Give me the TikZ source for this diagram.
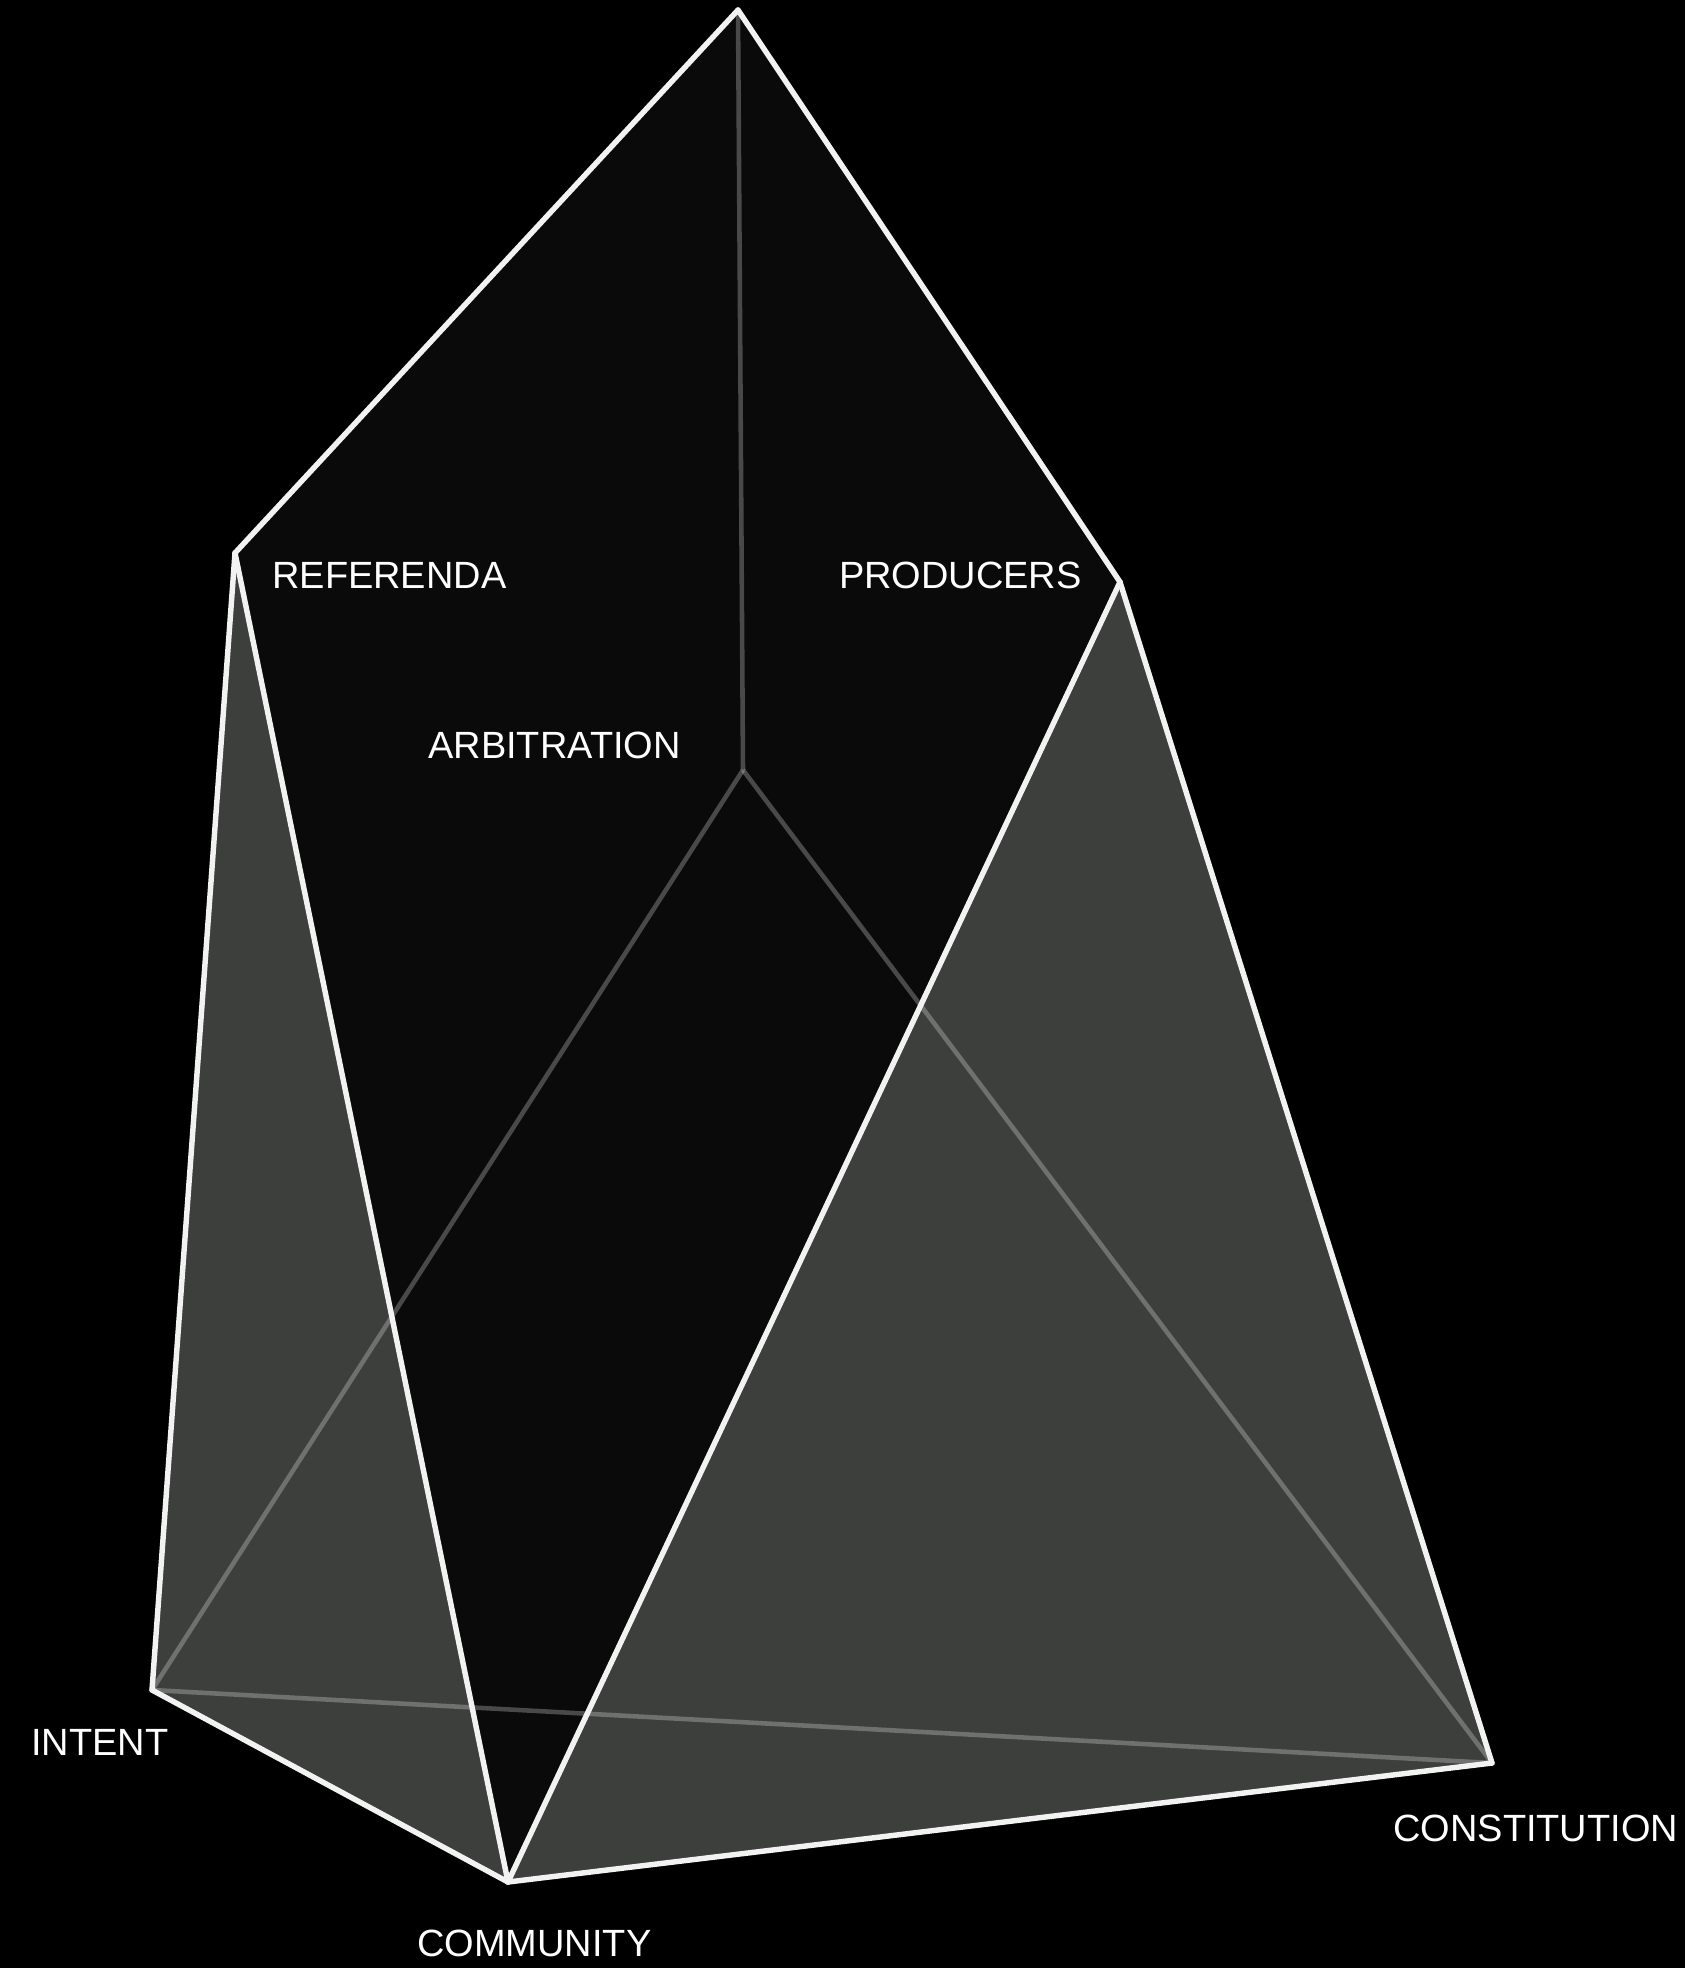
\documentclass[tikz,border=0pt]{standalone}
\usepackage{fontspec}
\setmainfont{Liberation Sans}
\usetikzlibrary{positioning}

\definecolor{facedark}{HTML}{0A0A0A}
\definecolor{facegray}{HTML}{3D3F3D}
\definecolor{edgewhite}{HTML}{F2F2F2}

\begin{document}
\begin{tikzpicture}[x=0.02cm,y=-0.02cm]
\tikzset{
  frontedge/.style={draw=edgewhite,line width=3.1pt,line cap=round,line join=round},
  backedge/.style={draw=white,draw opacity=0.26,line width=2.6pt,line cap=butt},
  darkface/.style={fill=facedark},
  grayface/.style={fill=facegray},
  vertexlabel/.style={text=white,inner sep=0pt,font=\fontsize{21.6}{26}\selectfont}
}
\fill[black] (0,0) rectangle (1685,1968);
\useasboundingbox (0,0) rectangle (1685,1968);
\coordinate (v_top) at (738,10);
\coordinate (v_ref) at (235,553);
\coordinate (v_prod) at (1120,582);
\coordinate (v_arb) at (743,770);
\coordinate (v_int) at (152,1690);
\coordinate (v_com) at (508,1882);
\coordinate (v_con) at (1492,1763);
% faces
\fill[darkface] (v_top) -- (v_ref) -- (v_com) -- (v_prod) -- cycle;
\fill[grayface] (v_ref) -- (v_int) -- (v_com) -- cycle;
\fill[grayface] (v_prod) -- (v_com) -- (v_con) -- cycle;
% hidden edges
\draw[backedge] (v_top) -- (v_arb);
\draw[backedge] (v_arb) -- (v_int);
\draw[backedge] (v_arb) -- (v_con);
\draw[backedge] (v_int) -- (v_con);
% visible edges
\draw[frontedge] (v_top) -- (v_ref);
\draw[frontedge] (v_top) -- (v_prod);
\draw[frontedge] (v_ref) -- (v_int);
\draw[frontedge] (v_ref) -- (v_com);
\draw[frontedge] (v_int) -- (v_com);
\draw[frontedge] (v_com) -- (v_con);
\draw[frontedge] (v_com) -- (v_prod);
\draw[frontedge] (v_prod) -- (v_con);
% labels
\node[vertexlabel,anchor=west] (l_ref) at (272,575) {REFERENDA};
\node[vertexlabel,anchor=east] (l_prod) at (1082,575) {PRODUCERS};
\node[vertexlabel,anchor=west] (l_arb) at (428,745) {ARBITRATION};
\node[vertexlabel,anchor=west] (l_int) at (31,1742) {INTENT};
\node[vertexlabel,anchor=west] (l_com) at (417,1943) {COMMUNITY};
\node[vertexlabel,anchor=west] (l_con) at (1393,1828) {CONSTITUTION};
\end{tikzpicture}
\end{document}
